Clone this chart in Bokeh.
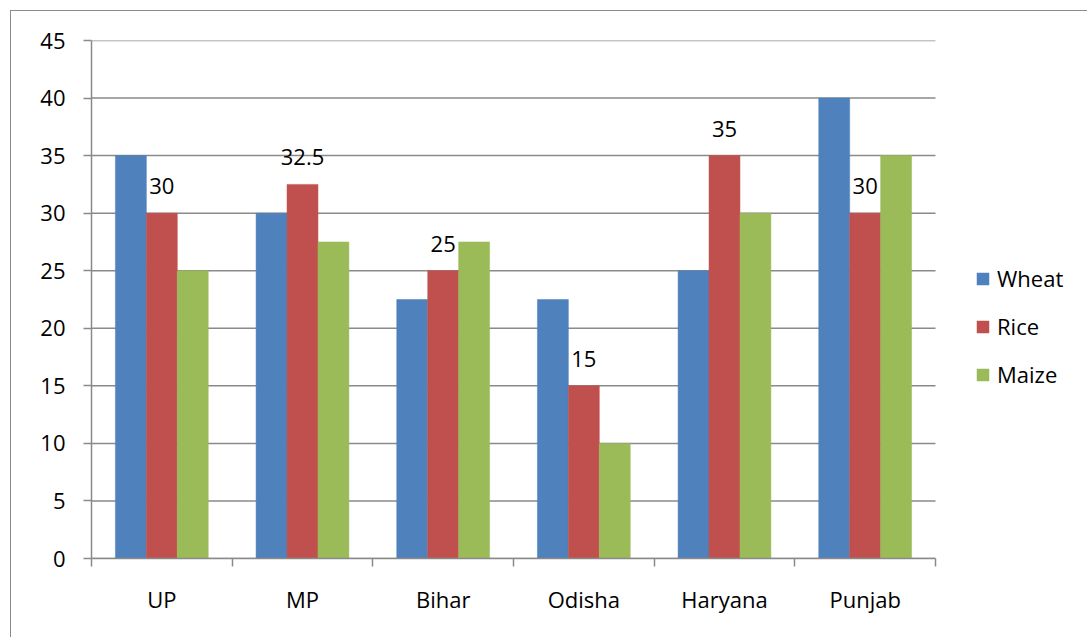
from bokeh.plotting import figure
from bokeh.models import Range1d, FixedTicker, Legend, LegendItem, ColumnDataSource
from bokeh.transform import dodge
from bokeh.embed import file_html
from bokeh.resources import INLINE
from bokeh.core.properties import value

states = ["UP", "MP", "Bihar", "Odisha", "Haryana", "Punjab"]
wheat = [35, 30, 22.5, 22.5, 25, 40]
rice = [30, 32.5, 25, 15, 35, 30]
maize = [25, 27.5, 27.5, 10, 30, 35]
series_names = ["Wheat", "Rice", "Maize"]
colors = ["#4F81BD", "#C0504D", "#9BBB59"]
y_ticks = [0, 5, 10, 15, 20, 25, 30, 35, 40, 45]

FONT = "Open Sans"
FS = "22px"
GRAY = "#8a8a8a"
BAR_W = 0.22

# layout (pixels): plot width of the category area and of the whole frame
W, H = 1077, 627
LEFT, TOP, BOTTOM = 80, 29, 80
CAT_AREA_PX = 844
FRAME_PX = W - LEFT
n = len(states)
x_end = n * FRAME_PX / CAT_AREA_PX

centers = [i + 0.5 for i in range(n)]
source = ColumnDataSource(dict(
    x=centers, state=states, Wheat=wheat, Rice=rice, Maize=maize,
    rice_label=[f"{v:g}" for v in rice],
))

p = figure(width=W, height=H,
           x_range=Range1d(0, x_end), y_range=Range1d(0, y_ticks[-1]),
           output_backend="svg", toolbar_location=None,
           min_border_left=LEFT, min_border_right=0,
           min_border_top=TOP, min_border_bottom=BOTTOM)
p.margin = (10, 0, 0, 10)
p.outline_line_color = None
p.styles = {"border-left": "1.5px solid #8c8c8c", "border-top": "1.5px solid #8c8c8c"}

# horizontal gridlines limited to the category area
p.segment(x0=[0] * len(y_ticks), x1=[n] * len(y_ticks), y0=y_ticks, y1=y_ticks,
          line_color=GRAY, line_width=1.5)

renderers = []
offsets = [-BAR_W, 0, BAR_W]
for name, col, off in zip(series_names, colors, offsets):
    r = p.vbar(x=dodge("x", off), top=name, width=BAR_W, source=source,
               fill_color=col, line_color=col, line_width=0.5)
    renderers.append(r)

p.text(x=dodge("x", 0), y="Rice", text="rice_label", source=source,
       text_align="center", text_baseline="alphabetic", y_offset=-27,
       text_font=value(FONT), text_font_size=FS, text_color="#000000")

# y axis
p.yaxis.ticker = FixedTicker(ticks=y_ticks)
p.yaxis.major_tick_out = 8
p.yaxis.major_tick_in = 0
p.yaxis.minor_tick_line_color = None
p.yaxis.axis_line_color = GRAY
p.yaxis.axis_line_width = 1.5
p.yaxis.major_tick_line_color = GRAY
p.yaxis.major_tick_line_width = 1.5
p.yaxis.major_label_text_font = FONT
p.yaxis.major_label_text_font_size = FS
p.yaxis.major_label_text_color = "#000000"
p.yaxis.major_label_standoff = 18

# x axis
p.xaxis.bounds = (0, n)
p.xaxis.ticker = FixedTicker(ticks=centers, minor_ticks=list(range(n + 1)))
p.xaxis.major_label_overrides = {c: s for c, s in zip(centers, states)}
p.xaxis.major_tick_line_color = None
p.xaxis.minor_tick_out = 8
p.xaxis.minor_tick_in = 0
p.xaxis.minor_tick_line_color = GRAY
p.xaxis.minor_tick_line_width = 1.5
p.xaxis.axis_line_color = GRAY
p.xaxis.axis_line_width = 1.5
p.xaxis.major_label_text_font = FONT
p.xaxis.major_label_text_font_size = FS
p.xaxis.major_label_text_color = "#000000"
p.xaxis.major_label_standoff = 17

p.xgrid.grid_line_color = None
p.ygrid.grid_line_color = None

legend = Legend(items=[LegendItem(label=nm, renderers=[r]) for nm, r in zip(series_names, renderers)],
                location=(884, 169))
legend.glyph_width = 15
legend.glyph_height = 15
legend.label_height = 20
legend.label_standoff = 7
legend.spacing = 18
legend.padding = 10
legend.margin = 0
legend.border_line_color = None
legend.background_fill_alpha = 0
legend.label_text_font = FONT
legend.label_text_font_size = FS
legend.label_text_color = "#000000"
p.add_layout(legend)

open("out.html", "w").write(file_html(p, INLINE))
